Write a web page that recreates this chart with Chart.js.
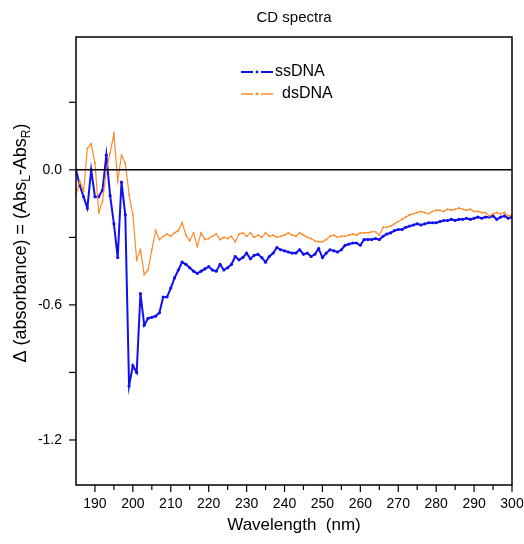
<!DOCTYPE html>
<html>
<head>
<meta charset="utf-8">
<script src="https://cdn.jsdelivr.net/npm/chart.js@4"></script>
<style>
body{margin:0;background:#fff;}
#wrap{width:524px;height:544px;}
</style>
</head>
<body>
<div id="wrap"><canvas id="grafico"></canvas></div>
<script>
// Dados

const wavelength = [];
for(let w=185; w<=300; w++){ wavelength.push(w); }

const ssDNA = [
0,-0.07,-0.12,-0.17,0.0,-0.12,-0.12,-0.09,0.065,-0.115,
-0.24,-0.39,-0.055,-0.20,-0.96,-0.87,-0.90,-0.55,-0.69,-0.66,
-0.655,-0.65,-0.635,-0.565,-0.565,-0.525,-0.48,-0.445,-0.41,-0.42,
-0.435,-0.45,-0.46,-0.45,-0.44,-0.43,-0.445,-0.45,-0.42,-0.445,
-0.435,-0.42,-0.385,-0.40,-0.39,-0.37,-0.395,-0.38,-0.375,-0.39,
-0.41,-0.385,-0.37,-0.345,-0.355,-0.36,-0.365,-0.37,-0.37,-0.355,
-0.375,-0.37,-0.385,-0.375,-0.35,-0.39,-0.37,-0.355,-0.36,-0.365,
-0.355,-0.335,-0.33,-0.325,-0.325,-0.335,-0.31,-0.31,-0.31,-0.305,
-0.31,-0.295,-0.285,-0.28,-0.27,-0.265,-0.265,-0.255,-0.25,-0.245,
-0.24,-0.245,-0.24,-0.235,-0.235,-0.235,-0.23,-0.225,-0.225,-0.22,
-0.225,-0.22,-0.22,-0.215,-0.22,-0.215,-0.21,-0.215,-0.21,-0.21,
-0.205,-0.22,-0.21,-0.205,-0.215,-0.21
];

const dsDNA = [
-0.11,-0.05,-0.095,0.095,0.115,0.03,-0.19,-0.14,0.0,0.075,
0.16,-0.05,0.065,0.03,-0.11,-0.20,-0.40,-0.355,-0.465,-0.445,
-0.355,-0.27,-0.31,-0.295,-0.285,-0.295,-0.28,-0.27,-0.235,-0.29,
-0.315,-0.28,-0.34,-0.28,-0.31,-0.305,-0.295,-0.285,-0.31,-0.30,
-0.305,-0.295,-0.32,-0.285,-0.28,-0.295,-0.28,-0.30,-0.29,-0.30,
-0.28,-0.295,-0.29,-0.30,-0.295,-0.29,-0.28,-0.29,-0.295,-0.28,
-0.29,-0.30,-0.305,-0.315,-0.32,-0.32,-0.31,-0.295,-0.29,-0.30,
-0.295,-0.295,-0.29,-0.285,-0.29,-0.28,-0.28,-0.28,-0.275,-0.275,
-0.29,-0.255,-0.255,-0.25,-0.24,-0.23,-0.22,-0.21,-0.20,-0.195,
-0.19,-0.185,-0.19,-0.195,-0.185,-0.18,-0.18,-0.185,-0.175,-0.18,
-0.175,-0.17,-0.175,-0.18,-0.175,-0.185,-0.185,-0.19,-0.19,-0.205,
-0.195,-0.19,-0.195,-0.19,-0.205,-0.20
];

const xTicks = [190,195,200,205,210,215,220,225,230,235,240,245,250,255,260,265,270,275,280,285,290,295,300];
const yTicks = [0.3,0.0,-0.3,-0.6,-0.9,-1.2];
const yLabeled = [0.0,-0.6,-1.2];

const azul = "#1010f0";
const laranja = "#ff8a2a";

function pts(arr){
return wavelength.map((w,i)=>({x:w,y:arr[i]}));
}

// Moldura, ticks, títulos e legenda

const extras = {
id:"extras",
afterDraw(chart){
const c = chart.ctx;
const a = chart.chartArea;
const xs = chart.scales.x;
const ys = chart.scales.y;
c.save();
c.strokeStyle="#000";
c.lineWidth=1.5;
c.strokeRect(a.left,a.top,a.right-a.left,a.bottom-a.top);

// linha zero
const y0 = ys.getPixelForValue(0);
c.beginPath();
c.moveTo(a.left,y0);
c.lineTo(a.right,y0);
c.stroke();

// ticks x
c.lineWidth=1.2;
xTicks.forEach(v=>{
const px = xs.getPixelForValue(v);
const len = (v%10===0)?7:5;
c.beginPath();
c.moveTo(px,a.bottom);
c.lineTo(px,a.bottom+len);
c.stroke();
});
// ticks y
yTicks.forEach(v=>{
const py = ys.getPixelForValue(v);
c.beginPath();
c.moveTo(a.left,py);
c.lineTo(a.left-7,py);
c.stroke();
});

// título
c.fillStyle="#000";
c.textAlign="center";
c.textBaseline="middle";
c.font="15px 'Liberation Sans', Arial, sans-serif";
c.fillText("CD spectra",(a.left+a.right)/2,18);

// título x
c.font="17px 'Liberation Sans', Arial, sans-serif";
c.fillText("Wavelength  (nm)",(a.left+a.right)/2,525);

// título y com subscritos
c.translate(21,243);
c.rotate(-Math.PI/2);
const big="18px 'Liberation Sans', Arial, sans-serif";
const small="12px 'Liberation Sans', Arial, sans-serif";
const parts=[["\u0394 (absorbance) = (Abs",big,0],["L",small,6],["-Abs",big,0],["R",small,6],[")",big,0]];
let total=0;
parts.forEach(p=>{c.font=p[1];total+=c.measureText(p[0]).width;});
let x=-total/2;
c.textAlign="left";
parts.forEach(p=>{
c.font=p[1];
c.fillText(p[0],x,p[2]);
x+=c.measureText(p[0]).width;
});
c.restore();

// legenda
c.save();
const items=[["ssDNA",azul,2,72],["dsDNA",laranja,1.3,94]];
c.font="16px 'Liberation Sans', Arial, sans-serif";
c.textBaseline="middle";
c.fillStyle="#000";
items.forEach(it=>{
const ly=it[3];
c.strokeStyle=it[1];
c.lineWidth=it[2];
c.beginPath();
c.moveTo(241,ly);c.lineTo(253,ly);
c.moveTo(261,ly);c.lineTo(273,ly);
c.stroke();
c.fillStyle=it[1];
c.beginPath();
c.arc(257,ly,1.4,0,Math.PI*2);
c.fill();
c.fillStyle="#000";
c.fillText(it[0],it[0]==="ssDNA"?275:282,ly);
});
c.restore();
}
};

const ctx = document.getElementById("grafico");

new Chart(ctx,{
type:"line",
data:{
datasets:[
{
label:"dsDNA",
data:pts(dsDNA),
borderColor:laranja,
backgroundColor:laranja,
borderWidth:1.2,
pointRadius:1,
pointBorderWidth:0,
tension:0
},
{
label:"ssDNA",
data:pts(ssDNA),
borderColor:azul,
backgroundColor:azul,
borderWidth:2,
pointRadius:1.6,
pointBorderWidth:0,
tension:0
}
]
},
options:{
responsive:true,
maintainAspectRatio:false,
animation:false,
layout:{padding:{top:37,right:12,left:0,bottom:0}},
plugins:{
legend:{display:false},
tooltip:{enabled:false}
},
scales:{
x:{
type:"linear",
min:185,
max:300,
afterBuildTicks:(s)=>{s.ticks=xTicks.map(v=>({value:v}));},
afterFit:(s)=>{s.height=59;s.paddingRight=0;s.paddingLeft=0;},
grid:{display:false,drawTicks:false},
border:{display:false},
ticks:{
padding:11,
autoSkip:false,
maxRotation:0,
color:"#000",
font:{size:14,family:"'Liberation Sans', Arial, sans-serif"},
callback:(v)=> v%10===0 ? String(v) : ""
}
},
y:{
type:"linear",
min:-1.4,
max:0.59,
afterBuildTicks:(s)=>{s.ticks=yTicks.map(v=>({value:v}));},
afterFit:(s)=>{s.width=76;s.paddingTop=0;s.paddingBottom=0;},
grid:{display:false,drawTicks:false},
border:{display:false},
ticks:{
padding:14,
color:"#000",
font:{size:14,family:"'Liberation Sans', Arial, sans-serif"},
callback:(v)=> yLabeled.some(t=>Math.abs(t-v)<1e-6) ? v.toFixed(1) : ""
}
}
}
},
plugins:[extras]
});
</script>
</body>
</html>
